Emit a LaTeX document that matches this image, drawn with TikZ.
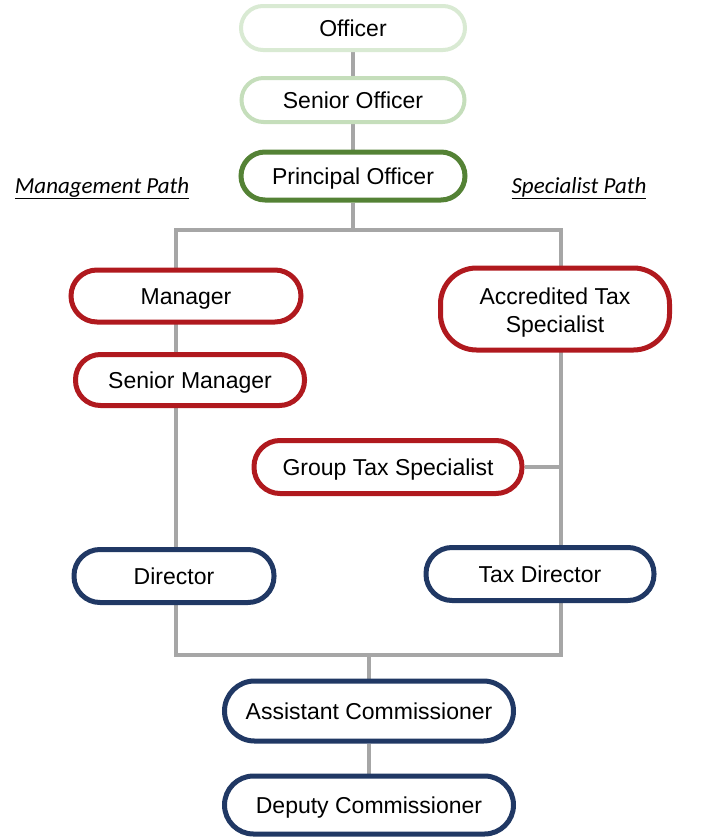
\documentclass[tikz,border=0pt]{standalone}
\usepackage{fontspec}
\setmainfont{Liberation Sans}
\newfontfamily\pathfont{Carlito}
\usetikzlibrary{backgrounds}
\definecolor{lgreenA}{HTML}{D9EAD3}
\definecolor{lgreenB}{HTML}{C5DEBB}
\definecolor{dgreen}{HTML}{548235}
\definecolor{dred}{HTML}{B0191E}
\definecolor{navy}{HTML}{203864}
\definecolor{conn}{HTML}{A6A6A6}
\tikzset{
  pillbase/.style={draw, fill=white, line width=5, inner sep=0pt, align=center,
    font=\fontsize{23}{28}\selectfont},
  pill/.style={pillbase, text height=16.5, text depth=0},
  conline/.style={draw=conn, line width=4},
  pathlabel/.style={font=\pathfont\itshape\fontsize{23}{27}\selectfont, inner sep=0pt}
}
\begin{document}
\begin{tikzpicture}[x=1pt,y=-1pt]
\useasboundingbox (0,0) rectangle (728,839);
% nodes
\node[pill, draw=lgreenA, line width=4, minimum width=224, minimum height=44, rounded corners=22] (off) at (353,28) {Officer};
\node[pill, draw=lgreenB, line width=4, minimum width=223, minimum height=44, rounded corners=22] (so) at (353,100) {Senior Officer};
\node[pill, draw=dgreen, minimum width=224, minimum height=48, rounded corners=24] (po) at (353,176) {Principal Officer};
\node[pill, draw=dred, minimum width=230, minimum height=52, rounded corners=26] (man) at (186,296) {Manager};
\node[pill, draw=dred, minimum width=229, minimum height=51, rounded corners=25] (sman) at (190,380) {Senior Manager};
\node[pillbase, draw=dred, minimum width=229, minimum height=82, rounded corners=36] (ats) at (555,309) {\rule{0pt}{23pt}Accredited Tax\\Specialist};
\node[pill, draw=dred, minimum width=268, minimum height=53, rounded corners=26] (gts) at (388,467) {Group Tax Specialist};
\node[pill, draw=navy, minimum width=200, minimum height=53, rounded corners=26] (dir) at (174,576) {Director};
\node[pill, draw=navy, minimum width=228, minimum height=53, rounded corners=26] (tdir) at (540,574) {Tax Director};
\node[pill, draw=navy, minimum width=289, minimum height=60, rounded corners=30] (ac) at (369,711) {Assistant Commissioner};
\node[pill, draw=navy, minimum width=289, minimum height=58, rounded corners=29] (dc) at (369,805) {Deputy Commissioner};
% path labels
\node[pathlabel] (mp) at (102,188) {\underline{Management Path}};
\node[pathlabel] (sp) at (579,188) {\underline{Specialist Path}};
% connectors
\coordinate (tl) at (176,230);
\coordinate (tr) at (561,230);
\coordinate (bl) at (176,655);
\coordinate (br) at (561,655);
\begin{scope}[on background layer]
\draw[conline] (off.south) -- (so.north);
\draw[conline] (so.south) -- (po.north);
\draw[conline] (po.south) -- (po.south |- tl);
\draw[conline] (tl) -- (tr) -- (br) -- (bl) -- cycle;
\draw[conline] (gts.east) -- (gts.east -| tr);
\draw[conline] (ac.north |- bl) -- (ac.north);
\draw[conline] (ac.south) -- (dc.north);
\end{scope}
\end{tikzpicture}
\end{document}
